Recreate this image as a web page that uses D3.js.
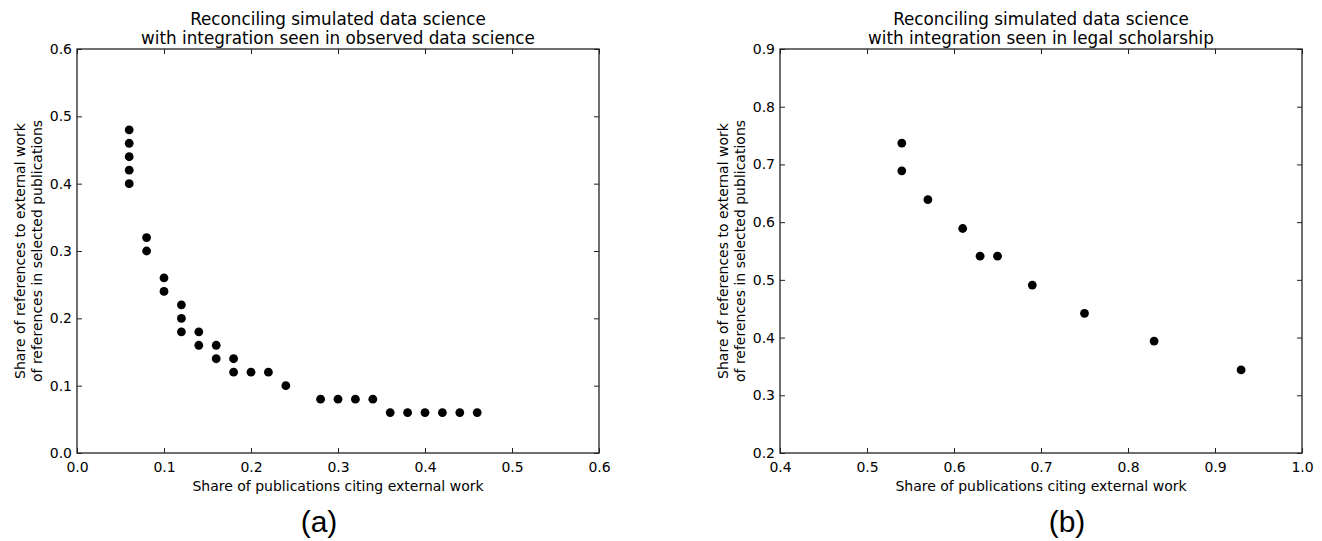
<!DOCTYPE html>
<html>
<head>
<meta charset="utf-8">
<style>
  body { margin: 0; background: #fff; }
  svg text { font-family: "DejaVu Sans", sans-serif; fill: #000; }
  .axis path { display: none; }
  .axis line { stroke: #222; stroke-width: 1; }
  .axis text { font-size: 14px; fill: #000; }
  .frame { fill: none; stroke: #222; stroke-width: 1.3; }
  .panel-tag { font-family: "Liberation Sans", Arial, sans-serif; font-size: 30px; }
</style>
</head>
<body>
<svg width="1322" height="541"></svg>
<script src="https://d3js.org/d3.v7.min.js"></script>
<script>

// panel (a): simulated vs observed data science
var dsX = [0.06, 0.06, 0.06, 0.06, 0.06,
           0.08, 0.08, 0.10, 0.10,
           0.12, 0.12, 0.12, 0.14, 0.14,
           0.16, 0.16, 0.18, 0.18, 0.20, 0.22, 0.24,
           0.28, 0.30, 0.32, 0.34,
           0.36, 0.38, 0.40, 0.42, 0.44, 0.46];
var dsY = [0.48, 0.46, 0.44, 0.42, 0.40,
           0.32, 0.30, 0.26, 0.24,
           0.22, 0.20, 0.18, 0.18, 0.16,
           0.16, 0.14, 0.14, 0.12, 0.12, 0.12, 0.10,
           0.08, 0.08, 0.08, 0.08,
           0.06, 0.06, 0.06, 0.06, 0.06, 0.06];
var dsXTicks = [0.0, 0.1, 0.2, 0.3, 0.4, 0.5, 0.6];
var dsYTicks = [0.0, 0.1, 0.2, 0.3, 0.4, 0.5, 0.6];

// panel (b): simulated vs legal scholarship
var lawX = [0.54, 0.54, 0.57, 0.61, 0.63, 0.65, 0.69, 0.75, 0.83, 0.93];
var lawY = [0.737, 0.689, 0.639, 0.589, 0.541, 0.541, 0.491, 0.442, 0.394, 0.344];
var lawXTicks = [0.4, 0.5, 0.6, 0.7, 0.8, 0.9, 1.0];
var lawYTicks = [0.2, 0.3, 0.4, 0.5, 0.6, 0.7, 0.8, 0.9];

var xLabel = "Share of publications citing external work";
var yLabel = ["Share of references to external work", "of references in selected publications"];

var svg = d3.select("svg");

function drawPanel(p) {
  var w = p.x1 - p.x0, h = p.y1 - p.y0;
  var x = d3.scaleLinear().domain(d3.extent(p.xTicks)).range([0, w]);
  var y = d3.scaleLinear().domain(d3.extent(p.yTicks)).range([h, 0]);
  var fmt = d3.format(".1f");

  var g = svg.append("g").attr("transform", "translate(" + p.x0 + "," + p.y0 + ")");

  //ticks, pointing inward on all four sides
  g.append("g").attr("class", "axis").attr("transform", "translate(0," + h + ")")
    .call(d3.axisBottom(x).tickValues(p.xTicks).tickFormat(fmt).tickSize(-5).tickPadding(9));
  g.append("g").attr("class", "axis")
    .call(d3.axisTop(x).tickValues(p.xTicks).tickFormat("").tickSize(-5));
  g.append("g").attr("class", "axis")
    .call(d3.axisLeft(y).tickValues(p.yTicks).tickFormat(fmt).tickSize(-5).tickPadding(5));
  g.append("g").attr("class", "axis").attr("transform", "translate(" + w + ",0)")
    .call(d3.axisRight(y).tickValues(p.yTicks).tickFormat("").tickSize(-5));

  g.append("rect").attr("class", "frame").attr("width", w).attr("height", h);

  //points
  g.append("g").selectAll("circle").data(p.xs)
    .enter().append("circle")
    .attr("cx", function(d) { return x(d); })
    .attr("cy", function(d, i) { return y(p.ys[i]); })
    .attr("r", 4.4)
    .attr("fill", "#000");

  //title
  var t = g.append("text").attr("text-anchor", "middle").style("font-size", "16.8px");
  p.title.forEach(function(line, i) {
    t.append("tspan").attr("x", w / 2).attr("y", -24 + i * 19).text(line);
  });

  //axis labels
  g.append("text").attr("text-anchor", "middle").style("font-size", "14px")
    .attr("x", w / 2).attr("y", h + 38).text(xLabel);
  var yl = g.append("text").attr("text-anchor", "middle").style("font-size", "14px")
    .attr("transform", "translate(" + (-52) + "," + (h / 2) + ") rotate(-90)");
  yLabel.forEach(function(line, i) {
    yl.append("tspan").attr("x", 0).attr("y", i * 17).text(line);
  });

  //panel tag
  svg.append("text").attr("class", "panel-tag").attr("text-anchor", "middle")
    .attr("x", p.x0 + w / 2 + p.tagShift).attr("y", 532).text(p.tag);
}

drawPanel({ x0: 77, x1: 599, y0: 49, y1: 453, xs: dsX, ys: dsY,
  xTicks: dsXTicks, yTicks: dsYTicks, tag: "(a)", tagShift: -19,
  title: ["Reconciling simulated data science", "with integration seen in observed data science"] });

drawPanel({ x0: 780, x1: 1302, y0: 49, y1: 453, xs: lawX, ys: lawY,
  xTicks: lawXTicks, yTicks: lawYTicks, tag: "(b)", tagShift: 26,
  title: ["Reconciling simulated data science", "with integration seen in legal scholarship"] });

</script>
</body>
</html>
